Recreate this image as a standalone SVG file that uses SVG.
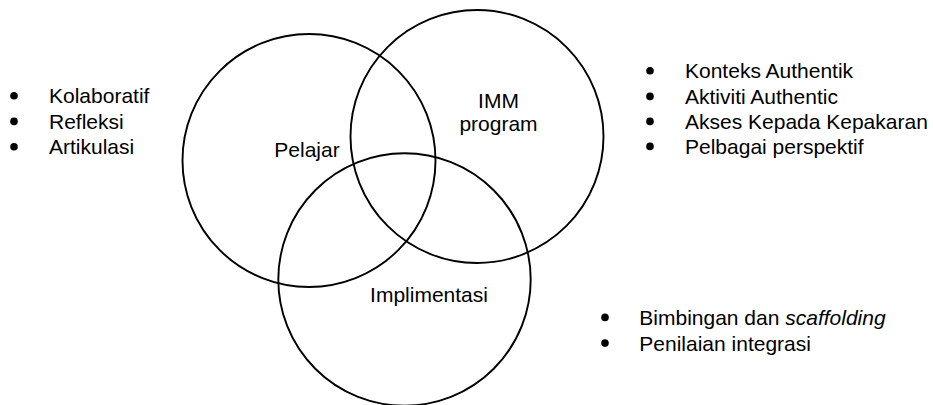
<svg xmlns="http://www.w3.org/2000/svg" width="933" height="405" viewBox="0 0 933 405">
<style>
.c{fill:none;stroke:#000;stroke-width:1.9}
.t{font-family:"Liberation Sans",Arial,sans-serif;font-size:21px;fill:#000}
.m{text-anchor:middle}
.b{fill:#000}
</style>
<rect width="933" height="405" fill="#fff"/>
<g id="pelajar">
<circle class="c" cx="309" cy="160.5" r="126.5"/>
<text class="t m" x="307" y="157">Pelajar</text>
</g>
<g id="imm">
<circle class="c" cx="477" cy="136.5" r="126.5"/>
<text class="t m" x="498.5" y="108">IMM</text>
<text class="t m" x="498.5" y="130.5">program</text>
</g>
<g id="implimentasi">
<circle class="c" cx="404.5" cy="279.5" r="126.2"/>
<text class="t m" x="429" y="301.5">Implimentasi</text>
</g>
<g id="list-left">
<circle class="b" cx="14" cy="95.8" r="3.8"/>
<circle class="b" cx="14" cy="121.4" r="3.8"/>
<circle class="b" cx="14" cy="146.8" r="3.8"/>
<text class="t" x="49" y="103.3">Kolaboratif</text>
<text class="t" x="49" y="129">Refleksi</text>
<text class="t" x="49" y="154.3">Artikulasi</text>
</g>
<g id="list-right">
<circle class="b" cx="650" cy="70.7" r="3.8"/>
<circle class="b" cx="650" cy="96.4" r="3.8"/>
<circle class="b" cx="650" cy="121.4" r="3.8"/>
<circle class="b" cx="650" cy="146.4" r="3.8"/>
<text class="t" x="685" y="78.3">Konteks Authentik</text>
<text class="t" x="685" y="104">Aktiviti Authentic</text>
<text class="t" x="685" y="129">Akses Kepada Kepakaran</text>
<text class="t" x="685" y="154">Pelbagai perspektif</text>
</g>
<g id="list-bottom">
<circle class="b" cx="605" cy="317.4" r="3.8"/>
<circle class="b" cx="605" cy="343.1" r="3.8"/>
<text class="t" x="639.3" y="325">Bimbingan dan <tspan font-style="italic">scaffolding</tspan></text>
<text class="t" x="639.3" y="350.7">Penilaian integrasi</text>
</g>
<g id="connectors"/>
</svg>
